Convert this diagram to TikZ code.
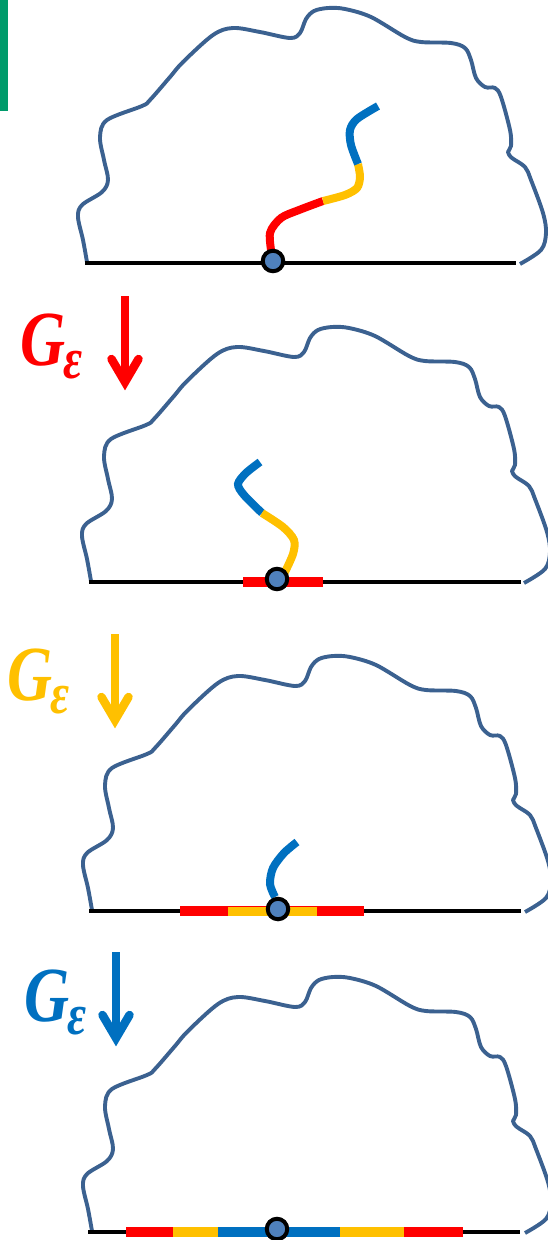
\documentclass[tikz,border=0pt]{standalone}
\usepackage{fontspec}
\newfontfamily\labfont{Liberation Serif}
\usetikzlibrary{arrows.meta}
\definecolor{blobc}{HTML}{3B6190}
\definecolor{pred}{HTML}{FF0000}
\definecolor{pyel}{HTML}{FFC000}
\definecolor{pblu}{HTML}{0070C0}
\definecolor{dotfill}{HTML}{4F81BD}
\definecolor{gbar}{HTML}{009B6B}
\newcommand\gepslabel{\labfont\bfseries\itshape\fontsize{78}{78}\selectfont G\kern-0.02em\raisebox{-13pt}{\fontsize{58}{58}\selectfont ε}}
\tikzset{
  blobline/.style={draw=blobc, line width=3.9pt, line cap=butt, line join=round},
  baseline/.style={draw=black, line width=4pt},
  seg/.style={line width=8pt, line cap=butt},
  bar/.style={line width=10pt, line cap=butt},
  dotc/.style={circle, draw=black, line width=4pt, fill=dotfill, minimum size=20.5pt, inner sep=0pt},
  lab/.style={anchor=base west, inner sep=0pt, xscale=0.8},
  blobpic/.pic={
    \draw[blobline] plot[smooth, tension=0.55] coordinates {
      (87,262) (83,240) (78,217) (82,205) (102,192) (108,180) (104,160) (100,137)
      (107,120) (142,106) (150,100) (170,77) (183,62) (213,35) (233,28) (260,32)
      (290,38) (300,33) (306,19) (314,11) (328,8) (345,9) (371,17) (405,37)
      (421,42) (451,43) (465,48) (471,60) (476,78) (485,87) (495,88) (501,97)
      (510,130) (511,146) (508,152) (512,158) (525,167) (531,180) (543,213)
      (546,233) (541,250) (520,264)};
  },
  downarr/.pic={
    \draw[line width=8pt] (0,0) -- (0,86);
    \draw[line width=8.5pt, line cap=round, line join=miter, miter limit=10]
      (-13.5,63) -- (0,86) -- (13.5,63);
  }
}
\begin{document}
\begin{tikzpicture}[x=1pt,y=-1pt]
\useasboundingbox (0,0) rectangle (548,1240);
\clip (0,0) rectangle (548,1240);
% green bar
\fill[gbar] (0,0) rectangle (8,111);

% ---------- panel 1 ----------
\pic at (0,0) {blobpic};
\coordinate (b1l) at (85,263); \coordinate (b1r) at (516,263);
\draw[baseline] (b1l) -- (b1r);
\draw[seg, pred] plot[smooth] coordinates {(272,256) (270,233) (281,218) (299,210) (323,201)};
\draw[seg, pyel] plot[smooth] coordinates {(323,201) (345,195) (357,188) (360,177) (358,164)};
\draw[seg, pblu] plot[smooth] coordinates {(358,164) (351,145) (350,130) (357,119) (378,106)};
\node[dotc] (c1) at (273,261) {};

% ---------- arrow 1 ----------
\pic[color=pred] at (125,296) {downarr};
\node[lab, text=pred] (l1) at (20,365) {\gepslabel};

% ---------- panel 2 ----------
\pic at (4,319) {blobpic};
\coordinate (b2l) at (89,582); \coordinate (b2r) at (521,582);
\draw[baseline] (b2l) -- (b2r);
\coordinate (r2l) at (243,582); \coordinate (r2r) at (323,582);
\draw[bar, pred] (r2l) -- (r2r);
\draw[seg, pblu] plot[smooth] coordinates {(260,462) (246,473) (238,484) (244,495) (262,513)};
\draw[seg, pyel] plot[smooth] coordinates {(262,513) (283,527) (294,540) (293,554) (284,574)};
\node[dotc] (c2) at (277,579) {};

% ---------- arrow 2 ----------
\pic[color=pyel] at (115,634) {downarr};
\node[lab, text=pyel] (l2) at (7,700) {\gepslabel};

% ---------- panel 3 ----------
\pic at (5,648) {blobpic};
\coordinate (b3l) at (89,911); \coordinate (b3r) at (521,911);
\draw[baseline] (b3l) -- (b3r);
\coordinate (r3l) at (180,911); \coordinate (r3r) at (364,911);
\coordinate (y3l) at (228,911.5); \coordinate (y3r) at (317,911.5);
\draw[bar, pred] (r3l) -- (r3r);
\draw[bar, pyel, line width=9pt] (y3l) -- (y3r);
\draw[seg, pblu] plot[smooth] coordinates {(275,897) (270,884) (273,868) (284,853) (297,842)};
\node[dotc] (c3) at (278,909) {};

% ---------- arrow 3 ----------
\pic[color=pblu] at (116,952) {downarr};
\node[lab, text=pblu] (l3) at (24,1021) {\gepslabel};

% ---------- panel 4 ----------
\pic at (5,969) {blobpic};
\coordinate (b4l) at (88,1232); \coordinate (b4r) at (520,1232);
\draw[baseline] (b4l) -- (b4r);
\coordinate (r4l) at (126,1232); \coordinate (r4r) at (463,1232);
\coordinate (y4l) at (173,1232); \coordinate (y4r) at (404,1232);
\coordinate (u4l) at (218,1232); \coordinate (u4r) at (340,1232);
\draw[bar, pred] (r4l) -- (r4r);
\draw[bar, pyel] (y4l) -- (y4r);
\draw[bar, pblu] (u4l) -- (u4r);
\node[dotc] (c4) at (277,1229) {};
\end{tikzpicture}
\end{document}
